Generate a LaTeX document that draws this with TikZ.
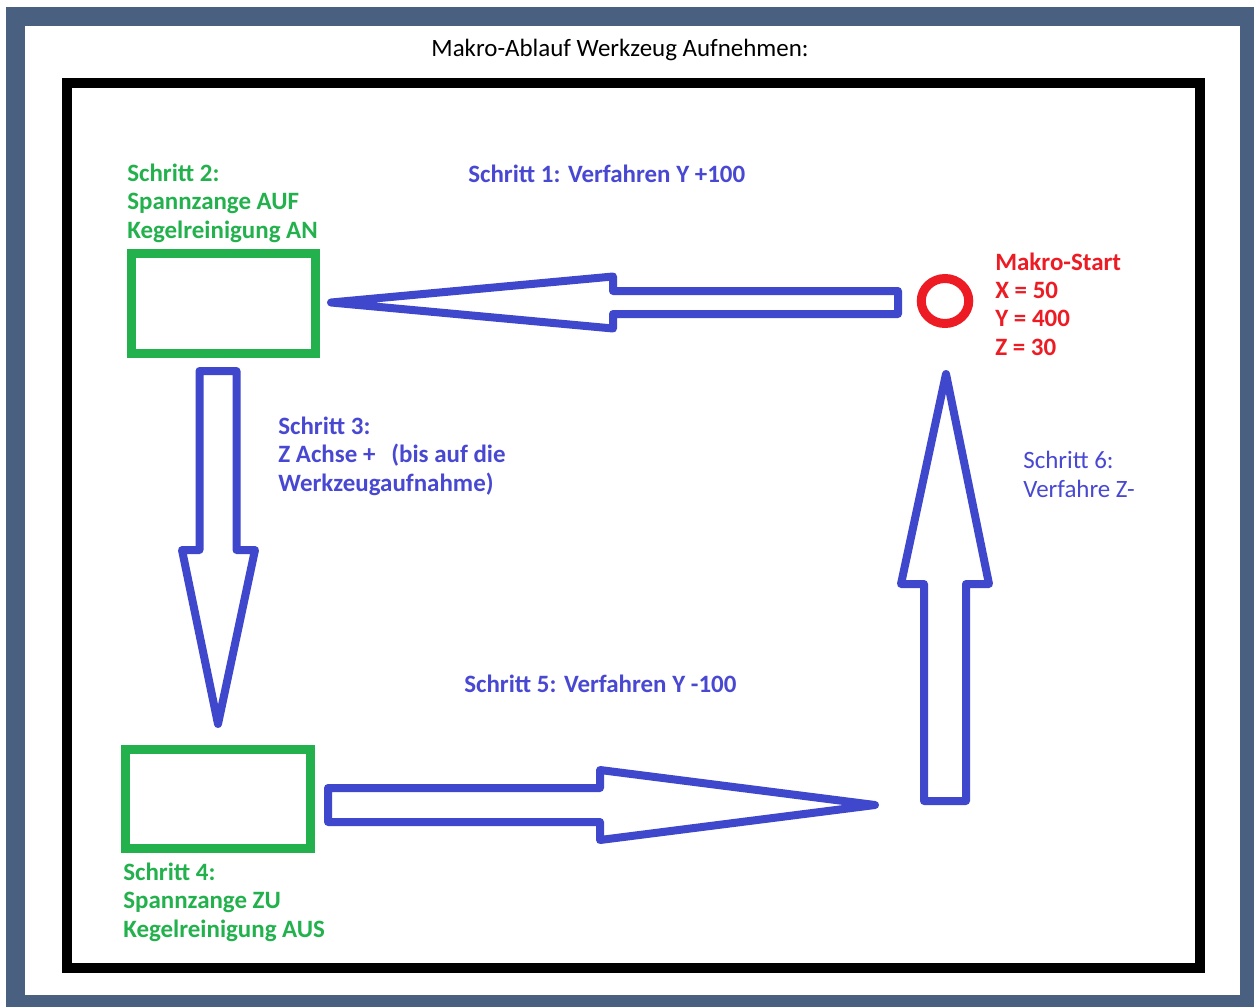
\documentclass[tikz,border=0pt]{standalone}
\usepackage{fontspec}
\setmainfont{Carlito}
\usetikzlibrary{shapes.geometric}
\definecolor{band}{RGB}{74,96,128}
\definecolor{pblue}{RGB}{63,72,204}
\definecolor{tblue}{RGB}{72,72,210}
\definecolor{pgreen}{RGB}{34,177,76}
\definecolor{pred}{RGB}{237,28,36}
\begin{document}
\begin{tikzpicture}[x=0.02cm,y=-0.02cm,
  lbl/.style={font=\fontsize{14.2pt}{16pt}\selectfont\bfseries, inner sep=0pt, align=left, anchor=base west},
  gbox/.style={draw=pgreen, line width=0.18cm, rectangle, inner sep=0pt},
  flow/.style={draw=pblue, line width=0.16cm, line join=round}]
\useasboundingbox (0,0) rectangle (1254,1007);
\fill[white] (0,0) rectangle (1254,1007);
\fill[band] (6,7) rectangle (1254,1007);
\fill[white] (25,26) rectangle (1240,995);
\draw[line width=0.2cm] (67,83) rectangle (1200,968);
\node[font=\fontsize{14.2pt}{16pt}\selectfont, inner sep=0pt, anchor=base] (title) at (620,57) {Makro-Ablauf Werkzeug Aufnehmen:};
% boxes and start
\node[gbox, minimum width=3.68cm, minimum height=2cm] (box2) at (223.5,303.5) {};
\node[gbox, minimum width=3.7cm, minimum height=1.98cm] (box4) at (218,799) {};
\node[draw=pred, line width=0.18cm, ellipse, minimum width=0.95cm, minimum height=0.9cm, inner sep=0pt] (start) at (945,301) {};
% arrows
\draw[flow] (898,291) -- (613,291) -- (613,276.5) -- (331,302.5) -- (613,328.5) -- (613,314) -- (898,314) -- cycle;
\draw[flow] (199.5,371) -- (236.5,371) -- (236.5,550) -- (255,550) -- (218,724) -- (182,550) -- (199.5,550) -- cycle;
\draw[flow] (328,788) -- (600,788) -- (600,770) -- (875,805) -- (600,840) -- (600,822) -- (328,822) -- cycle;
\draw[flow] (924,801) -- (966,801) -- (966,584) -- (989,584) -- (946,374) -- (901,584) -- (924,584) -- cycle;
% labels
\node[lbl, text=pgreen] (t2) at (127,238) {Schritt 2:\\Spannzange AUF\\Kegelreinigung AN};
\node[lbl, text=tblue] (t1) at (468,182) {Schritt 1: Verfahren Y +100};
\node[lbl, text=pred] (ts) at (995,355) {Makro-Start\\X = 50\\Y = 400\\Z = 30};
\node[lbl, text=tblue] (t3) at (278,491) {Schritt 3:\\Z Achse +\hspace{0.32cm}(bis auf die\\Werkzeugaufnahme)};
\node[lbl, font=\fontsize{14.2pt}{16pt}\selectfont, text=tblue] (t6) at (1023,497) {Schritt 6:\\Verfahre Z-};
\node[lbl, text=tblue] (t5) at (464,692) {Schritt 5: Verfahren Y -100};
\node[lbl, text=pgreen] (t4) at (123,937) {Schritt 4:\\Spannzange ZU\\Kegelreinigung AUS};
\end{tikzpicture}
\end{document}
